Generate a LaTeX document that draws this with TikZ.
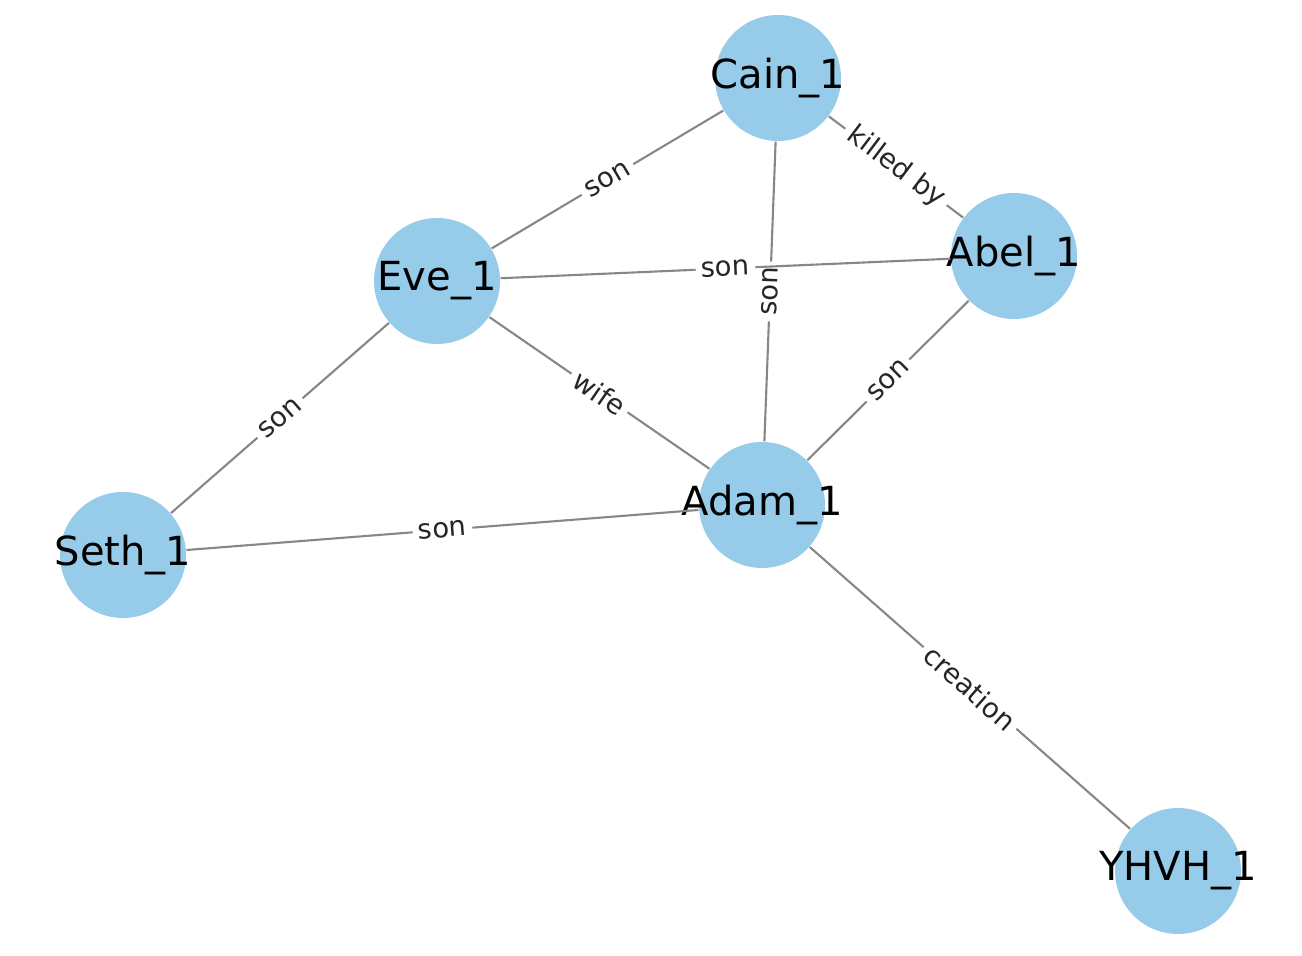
\documentclass[tikz,border=0pt]{standalone}
\usepackage{fontspec}
\setmainfont{DejaVu Sans}
\usetikzlibrary{positioning}
\definecolor{nodeblue}{RGB}{150,204,233}
\definecolor{edgegray}{RGB}{135,135,135}
\tikzset{
    person/.style={
    circle,fill=nodeblue,draw=none,minimum size=1.26cm,inner sep=0pt
    },
    pname/.style={
    font=\fontsize{11.4}{13}\selectfont,text=black,inner sep=0pt
    },
    relation/.style={
    draw=edgegray,line width=0.6pt
    },
    rlabel/.style={
    midway,sloped,fill=white,inner sep=1.6pt,font=\fontsize{7.8}{9}\selectfont,text=black!85
    },
}
\begin{document}
\begin{tikzpicture}
  \useasboundingbox (0,0) rectangle (13.02,9.56);
  \node[person,label={[pname]center:Cain\_1}] (Cain) at (7.78,8.78) {};
  \node[person,label={[pname]center:Eve\_1}] (Eve) at (4.37,6.75) {};
  \node[person,label={[pname]center:Abel\_1}] (Abel) at (10.14,7.00) {};
  \node[person,label={[pname]center:Adam\_1}] (Adam) at (7.62,4.51) {};
  \node[person,label={[pname]center:Seth\_1}] (Seth) at (1.23,4.01) {};
  \node[person,label={[pname]center:YHVH\_1}] (YHVH) at (11.78,0.85) {};

  \path[-]
    (Cain) edge [relation] node[rlabel] {son} (Eve)
           edge [relation] node[rlabel] {killed by} (Abel)
    (Adam) edge [relation] node[rlabel] {son} (Cain)
    (Eve)  edge [relation] node[rlabel] {son} (Abel)
           edge [relation] node[rlabel] {wife} (Adam)
    (Seth) edge [relation] node[rlabel] {son} (Eve)
           edge [relation] node[rlabel] {son} (Adam)
    (Adam) edge [relation] node[rlabel] {son} (Abel)
           edge [relation] node[rlabel] {creation} (YHVH);

\end{tikzpicture}
\end{document}
